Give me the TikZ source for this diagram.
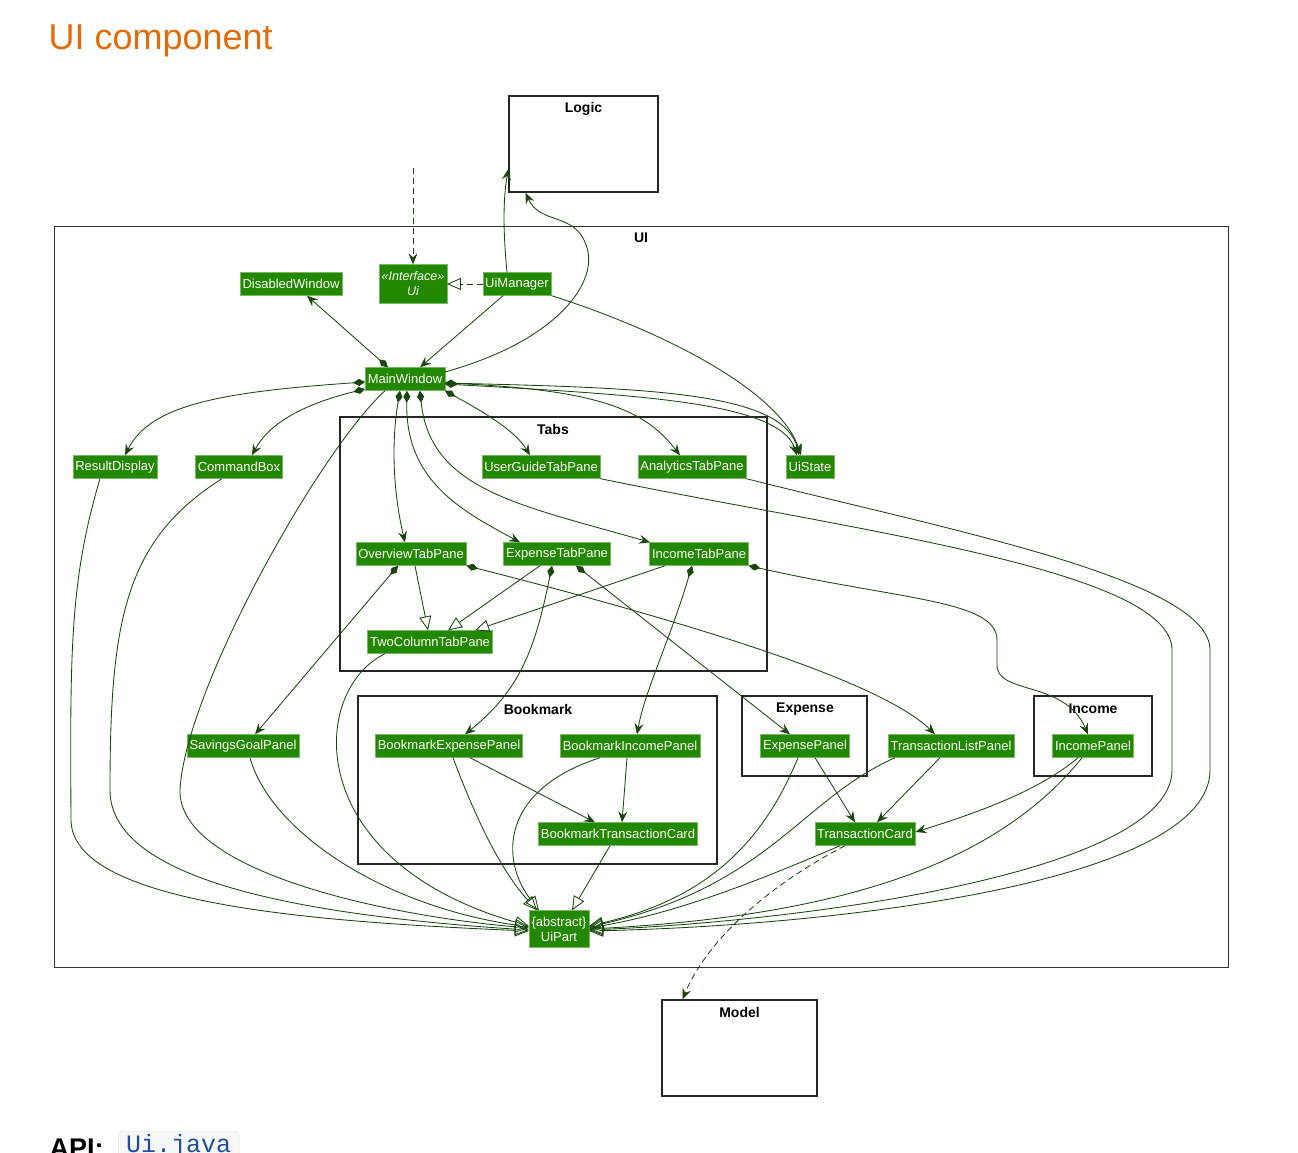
\documentclass[tikz,border=0pt]{standalone}
\usepackage{fontspec}
\setmainfont{Liberation Sans}
\setmonofont{Liberation Mono}
\usetikzlibrary{arrows.meta}

\definecolor{clsgreen}{RGB}{34,136,0}
\definecolor{linkgreen}{RGB}{24,70,12}
\definecolor{titleorange}{RGB}{227,108,10}
\definecolor{codeblue}{RGB}{30,80,160}

\tikzset{
  cls/.style={fill=clsgreen, draw=clsgreen!60!white, text=white,
    font=\fontsize{13}{15}\selectfont, inner xsep=2.5pt, inner ysep=0pt, minimum height=23pt},
  pkgbox/.style={draw=black!85, line width=1.4pt, inner sep=0pt},
  uibox/.style={draw=black!80, line width=1pt},
  pkgname/.style={font=\bfseries\fontsize{14}{16}\selectfont},
  link/.style={draw=linkgreen, line width=0.85pt},
  uses/.style={link, -{Stealth[length=11pt,width=9pt,inset=4pt]}},
  has/.style={link, {Diamond[length=12pt,width=7pt]}-{Stealth[length=11pt,width=9pt,inset=4pt]}},
  isa/.style={link, -{Triangle[open,length=14pt,width=12pt]}},
  dep/.style={uses, dash pattern=on 6pt off 4pt}
}

\begin{document}
\begin{tikzpicture}[x=1pt,y=-1pt]
\useasboundingbox (0,0) rectangle (1298,1152);
\clip (0,0) rectangle (1298,1152);

\node[anchor=base west, text=titleorange, font=\fontsize{36}{40}\selectfont] (title) at (45,49) {UI component};

% packages
\node[pkgbox, minimum width=149pt, minimum height=96pt] (logic) at (583.5,144) {};
\node[pkgname] at (583.5,109) {Logic};
\draw[uibox] (54,226) rectangle (1228,967);
\node[pkgname] at (641,238) {UI};
\draw[pkgbox] (340,417) rectangle (767,671);
\node[pkgname] at (553,429) {Tabs};
\draw[pkgbox] (358,696) rectangle (717,864);
\node[pkgname] at (538,709) {Bookmark};
\draw[pkgbox] (742,696) rectangle (867,776);
\node[pkgname] at (805,709) {Expense};
\draw[pkgbox] (1034,696) rectangle (1152,776);
\node[pkgname] at (1093,709) {Income};
\node[pkgbox, minimum width=155pt, minimum height=96pt] (model) at (739.5,1048) {};
\node[pkgname] at (739.5,1012) {Model};

% classes
\node[cls] (disabled) at (291,284) {DisabledWindow};
\node[cls, align=center, minimum height=39pt, font=\itshape\fontsize{12.5}{15}\selectfont] (ui) at (413,284) {«Interface»\\Ui};
\node[cls] (uimgr) at (517,284) {UiManager};
\node[cls] (mainwin) at (405,379) {MainWindow};
\node[cls] (result) at (115,467) {ResultDisplay};
\node[cls] (command) at (239,467) {CommandBox};
\node[cls] (userguide) at (541,467) {UserGuideTabPane};
\node[cls] (analytics) at (692,467) {AnalyticsTabPane};
\node[cls] (uistate) at (810,467) {UiState};
\node[cls] (overview) at (411,554) {OverviewTabPane};
\node[cls] (expensetab) at (557,554) {ExpenseTabPane};
\node[cls] (incometab) at (699,554) {IncomeTabPane};
\node[cls] (twocol) at (430,642) {TwoColumnTabPane};
\node[cls] (savings) at (243,746) {SavingsGoalPanel};
\node[cls] (bkexp) at (449,746) {BookmarkExpensePanel};
\node[cls] (bkinc) at (630,746) {BookmarkIncomePanel};
\node[cls] (exppanel) at (805,746) {ExpensePanel};
\node[cls] (txlist) at (951,746) {TransactionListPanel};
\node[cls] (incpanel) at (1093,746) {IncomePanel};
\node[cls] (bktc) at (618,834) {BookmarkTransactionCard};
\node[cls] (txcard) at (865,834) {TransactionCard};
\node[cls, align=center, minimum height=37pt] (uipart) at (559,929) {\{abstract\}\\UiPart};

% top
\coordinate (uiin) at (413,168);
\draw[dep] (uiin) -- (ui.north);
\draw[isa, dash pattern=on 6pt off 4pt] (uimgr.west) -- (ui.east);
\draw[uses] ([xshift=-10pt]uimgr.north) .. controls (503,230) and (503,200) .. ([yshift=-25pt]logic.west);
\draw[uses] ([yshift=7pt]mainwin.east) .. controls (560,340) and (600,280) .. (586,245) .. controls (575,212) and (540,225) .. ([xshift=-58pt]logic.south);
\draw[uses] ([xshift=-14pt]uimgr.south) -- ([xshift=15pt]mainwin.north);
\draw[has] ([xshift=-17pt]mainwin.north) -- ([xshift=16pt]disabled.south);
\draw[uses] (uimgr.south east) .. controls (660,330) and (780,390) .. ([xshift=-9pt]uistate.north);
\draw[has] ([yshift=-4pt]mainwin.east) .. controls (650,388) and (785,392) .. ([xshift=-11pt]uistate.north);
\draw[has] ([yshift=-5pt]mainwin.east) .. controls (640,395) and (780,402) .. ([xshift=-13pt]uistate.north);
\draw[has] ([yshift=-4pt]mainwin.east) .. controls (600,390) and (645,410) .. ([xshift=-12pt]analytics.north);
\draw[has] (mainwin.south east) .. controls (480,410) and (515,430) .. ([xshift=-11pt]userguide.north);
\draw[has] ([yshift=-3pt]mainwin.west) .. controls (220,392) and (150,405) .. ([xshift=10pt]result.north);
\draw[has] ([yshift=-10pt]mainwin.west) .. controls (300,405) and (268,425) .. ([xshift=13pt]command.north);
\draw[has] ([xshift=-5pt]mainwin.south) .. controls (390,450) and (395,500) .. ([xshift=-6pt]overview.north);
\draw[has] ([xshift=2pt]mainwin.south) .. controls (405,480) and (460,510) .. ([xshift=-37pt]expensetab.north);
\draw[has] ([xshift=15pt]mainwin.south) .. controls (430,490) and (520,505) .. ([xshift=-49pt]incometab.north);

% to UiPart from the left
\draw[isa] ([xshift=-15pt]result.south) .. controls (70,580) and (70,650) .. (71,820) .. controls (72,905) and (320,922) .. ([yshift=-2pt]uipart.west);
\draw[isa] ([xshift=-17pt]command.south) .. controls (125,540) and (110,620) .. (110,790) .. controls (110,880) and (300,915) .. ([yshift=-1pt]uipart.west);
\draw[isa] ([xshift=-20pt]mainwin.south) .. controls (320,450) and (185,690) .. (180,790) .. controls (178,870) and (380,915) .. ([yshift=1pt]uipart.west);
\draw[isa] ([xshift=7pt]savings.south) .. controls (270,830) and (380,905) .. ([yshift=2pt]uipart.west);
\draw[isa] ([xshift=-45pt]twocol.south) .. controls (310,690) and (300,860) .. ([yshift=3pt]uipart.west);

% to UiPart from above
\draw[isa] ([xshift=4pt]bkexp.south) .. controls (480,830) and (505,875) .. ([xshift=-22pt]uipart.north);
\draw[isa] ([xshift=-30pt]bkinc.south) .. controls (500,790) and (500,860) .. ([xshift=-20pt]uipart.north);
\draw[isa] ([xshift=-8pt]bktc.south) -- ([xshift=13pt]uipart.north);

% to UiPart from the right
\draw[isa] ([xshift=-7pt]exppanel.south) .. controls (760,850) and (700,900) .. ([yshift=3pt]uipart.east);
\draw[isa] ([xshift=-56pt]txlist.south) .. controls (800,800) and (770,885) .. ([yshift=2pt]uipart.east);
\draw[isa] ([xshift=-25pt]txcard.south) .. controls (760,880) and (680,912) .. ([yshift=1pt]uipart.east);
\draw[isa] ([xshift=-11pt]incpanel.south) .. controls (1000,860) and (850,915) .. (uipart.east);
\draw[isa] (userguide.south east) .. controls (850,530) and (1172,570) .. (1172,650) -- (1172,770) .. controls (1172,870) and (820,920) .. ([yshift=-1pt]uipart.east);
\draw[isa] (analytics.south east) .. controls (950,530) and (1210,580) .. (1210,650) -- (1210,770) .. controls (1210,880) and (850,925) .. ([yshift=-2pt]uipart.east);

% tabs
\draw[isa] ([xshift=4pt]overview.south) -- ([xshift=-2pt]twocol.north);
\draw[isa] ([xshift=-17pt]expensetab.south) -- ([xshift=18pt]twocol.north);
\draw[isa] ([xshift=-34pt]incometab.south) -- ([xshift=45pt]twocol.north);
\draw[has] ([xshift=-13pt]overview.south) -- ([xshift=12pt]savings.north);
\draw[has] (overview.south east) .. controls (680,620) and (880,680) .. ([xshift=-16pt]txlist.north);
\draw[has] ([xshift=-5pt]expensetab.south) .. controls (535,650) and (520,690) .. ([xshift=16pt]bkexp.north);
\draw[has] ([xshift=19pt]expensetab.south) -- ([xshift=-15pt]exppanel.north);
\draw[has] ([xshift=-7pt]incometab.south) .. controls (670,640) and (645,690) .. ([xshift=7pt]bkinc.north);
\draw[has] (incometab.south east) .. controls (900,600) and (997,600) .. (997,640) -- (997,665) .. controls (997,695) and (1065,680) .. ([xshift=-5pt]incpanel.north);

% panels and cards
\draw[uses] ([xshift=21pt]bkexp.south) -- ([xshift=-23pt]bktc.north);
\draw[uses] ([xshift=-3pt]bkinc.south) -- ([xshift=4pt]bktc.north);
\draw[uses] ([xshift=10pt]exppanel.south) -- ([xshift=-10pt]txcard.north);
\draw[uses] ([xshift=-11pt]txlist.south) -- ([xshift=12pt]txcard.north);
\draw[uses] ([xshift=-15pt]incpanel.south) .. controls (1040,790) and (980,812) .. ([yshift=2pt]txcard.east);
\draw[dep] ([xshift=-20pt]txcard.south) .. controls (760,890) and (705,945) .. ([xshift=-57pt]model.north);

% footer
\node[anchor=base west, font=\bfseries\fontsize{27}{30}\selectfont] (api) at (46,1157) {API:};
\node[anchor=north west, draw=black!12, fill=black!3, rounded corners=4pt, inner xsep=8pt, inner ysep=3pt,
  text=codeblue, font=\ttfamily\fontsize{25}{28}\selectfont] (apifile) at (118,1131) {Ui.java};
\end{tikzpicture}
\end{document}
